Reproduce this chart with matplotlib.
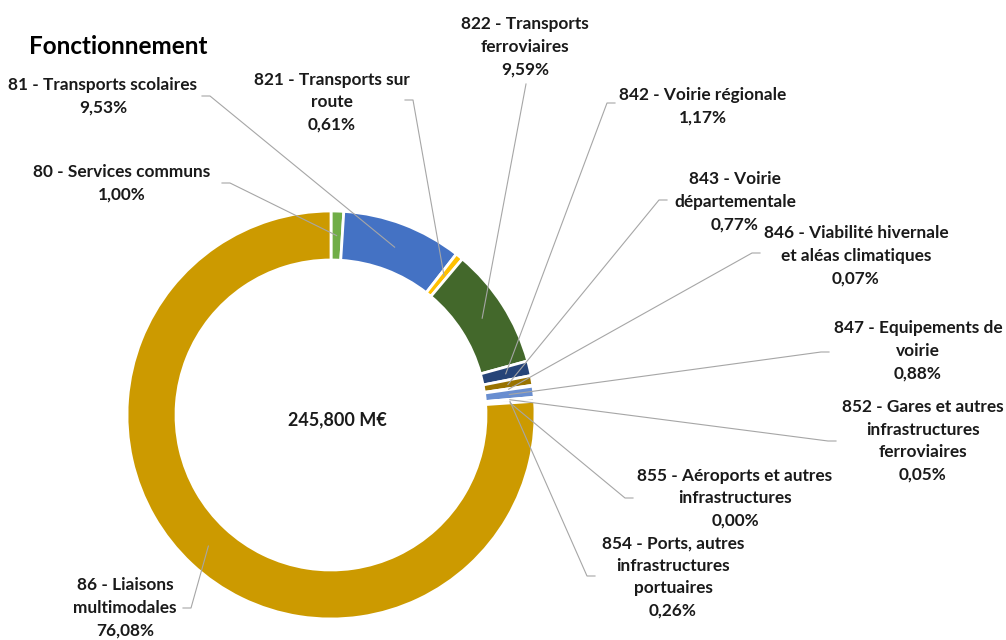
import numpy as np
import matplotlib.pyplot as plt

# données : fonctionnement, part de chaque sous-fonction (%)
labels = [
    "80 - Services communs",
    "81 - Transports scolaires",
    "821 - Transports sur\nroute",
    "822 - Transports\nferroviaires",
    "842 - Voirie régionale",
    "843 - Voirie\ndépartementale",
    "846 - Viabilité hivernale\net aléas climatiques",
    "847 - Equipements de\nvoirie",
    "852 - Gares et autres\ninfrastructures\nferroviaires",
    "854 - Ports, autres\ninfrastructures\nportuaires",
    "855 - Aéroports et autres\ninfrastructures",
    "86 - Liaisons\nmultimodales",
]
values = [1.00, 9.53, 0.61, 9.59, 1.17, 0.77, 0.07, 0.88, 0.05, 0.26, 0.00, 76.08]
colors = ["#70AD47", "#4472C4", "#FFC000", "#43682B", "#264478", "#997300",
          "#636363", "#698ED0", "#F1975A", "#B7B7B7", "#8CC168", "#CC9A00"]
total_label = "245,800 M€"
title = "Fonctionnement"

# mise en page (coordonnées pixels de l'image)
cx, cy, R, ring = 331, 415, 204, 49
label_pos = [(122, 183), (103, 96), (332, 102), (525, 47), (703, 106), (735, 202),
             (856, 256), (918, 351), (923, 441), (673, 577), (735, 498), (125, 608)]
leader_start = [(222, 183), (202, 96), (405, 100), (526, 84), (615, 103), (667, 200),
                (760, 253), (829, 352), (836, 441), (595, 576), (633, 498), (183, 608)]

plt.rcParams['font.family'] = ['Lato', 'DejaVu Sans']

fig = plt.figure(figsize=(10.06, 6.4), dpi=100)
ax = fig.add_axes([0, 0, 1, 1])

ax.pie(values, colors=colors, startangle=-90, counterclock=True,
       center=(cx, cy), radius=R, frame=True,
       wedgeprops=dict(width=ring, edgecolor='white', linewidth=2))
ax.set_xlim(0, 1006)
ax.set_ylim(640, 0)
ax.set_aspect('equal')
ax.axis('off')

# étiquettes et lignes de rappel
cum = np.cumsum([0] + values[:-1])
r_mid = R - ring / 2
for i, (lab, v) in enumerate(zip(labels, values)):
    theta = np.deg2rad(-90 + 3.6 * (cum[i] + v / 2))
    px, py = cx + r_mid * np.cos(theta), cy + r_mid * np.sin(theta)
    sx, sy = leader_start[i]
    if i == 3:
        xs, ys = [sx, px], [sy, py]
    else:
        ex = sx + 8 if px > sx else sx - 8
        xs, ys = [sx, ex, px], [sy, sy, py]
    ax.plot(xs, ys, color='#A6A6A6', lw=0.8, zorder=1)
    txt = lab + "\n" + f"{v:.2f}".replace('.', ',') + "%"
    ax.text(label_pos[i][0], label_pos[i][1], txt, ha='center', va='center',
            fontsize=12.4, fontweight='bold', color='#1A1A1A', linespacing=1.5)

ax.text(cx + 6, cy + 5, total_label, ha='center', va='center', fontsize=13,
        fontweight='bold', color='#1A1A1A')
ax.text(29, 47, title, ha='left', va='center', fontsize=17.5, fontweight='bold', color='#000000')

fig.savefig('out.png', dpi=100)
